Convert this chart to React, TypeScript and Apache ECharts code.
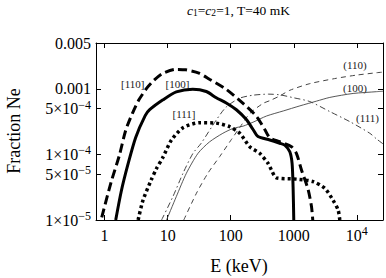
import React, { useEffect, useRef } from "react";
import * as echarts from "echarts";

// Axis ticks
const xTickValues = [1, 10, 100, 1000, 10000];
const xTickLabels = ["1", "10", "100", "1000", "10{sup|4}"];
const yTickValues = [1e-5, 5e-5, 1e-4, 5e-4, 0.001, 0.005];
const yTickLabels = ["1×10{sup|−5}", "5×10{sup|−5}", "1×10{sup|−4}", "5×10{sup|−4}", "0.001", "0.005"];

// [110] thick dashed
const e110 = [0.9, 1.27, 1.72, 2.15, 2.75, 3.5, 4.76, 6.06, 8.2, 13.4, 19.3, 31.4, 46, 85, 157, 256, 347, 416, 600, 920, 1100, 1325, 1690, 1910, 2000];
const f110 = [1.1e-5, 3.8e-5, 9.8e-5, 2.3e-4, 4.2e-4, 6.8e-4, 1.05e-3, 1.35e-3, 1.7e-3, 1.98e-3, 1.95e-3, 1.73e-3, 1.4e-3, 9.8e-4, 6.0e-4, 3.8e-4, 2.4e-4, 1.8e-4, 1.56e-4, 1.31e-4, 1.04e-4, 5.8e-5, 2.9e-5, 1.6e-5, 1.0e-5];

// [100] thick solid
const e100 = [1.5, 1.83, 2.33, 3.1, 4.4, 5.18, 8.42, 13.7, 25, 41, 59, 85, 123, 177, 226, 271, 416, 600, 720, 865, 940, 975, 1000];
const f100 = [1e-5, 2.7e-5, 6.9e-5, 1.8e-4, 3.9e-4, 4.8e-4, 6.8e-4, 9.0e-4, 9.9e-4, 9.1e-4, 7.3e-4, 6.1e-4, 4.8e-4, 3.4e-4, 2.4e-4, 1.87e-4, 1.66e-4, 1.48e-4, 1.39e-4, 1.1e-4, 7.3e-5, 3.2e-5, 1e-5];

// [111] thick dotted
const e111 = [3.4, 4.06, 5.5, 6.6, 8.4, 11.5, 17.5, 32, 59, 96, 139, 200, 288, 391, 442, 531, 1100, 2024, 3100, 4200, 5050, 5370];
const f111 = [1e-5, 2.0e-5, 4.1e-5, 6.0e-5, 9.0e-5, 1.66e-4, 2.55e-4, 3.05e-4, 3.0e-4, 2.65e-4, 2.1e-4, 1.31e-4, 1.04e-4, 7.3e-5, 5.8e-5, 4.4e-5, 4.2e-5, 3.85e-5, 3.05e-5, 2.0e-5, 1.42e-5, 1e-5];

// (110) thin dashed
const eT110 = [18, 28.6, 43.6, 67, 103, 140, 200, 326, 416, 600, 865, 1795, 4764, 9890, 20550, 26000];
const fT110 = [1e-5, 2.56e-5, 5.2e-5, 9.3e-5, 1.7e-4, 2.6e-4, 4.2e-4, 6.0e-4, 6.6e-4, 7.8e-4, 9.5e-4, 1.2e-3, 1.45e-3, 1.62e-3, 1.76e-3, 1.8e-3];

// (100) thin solid
const eT100 = [9.6, 13.7, 19.8, 30.3, 46, 75, 110, 157, 226, 369, 680, 1250, 2300, 3727, 8735, 20550, 26000];
const fT100 = [1e-5, 2.27e-5, 5.16e-5, 1.04e-4, 1.55e-4, 2.1e-4, 2.5e-4, 2.7e-4, 3.1e-4, 3.85e-4, 4.6e-4, 5.5e-4, 6.5e-4, 7.4e-4, 8.5e-4, 9.05e-4, 9.2e-4];

// (111) thin dash-dot
const eT111 = [8.0, 12.1, 17.5, 25.2, 34, 59, 85, 139, 226, 400, 600, 1000, 1795, 3727, 7745, 16070, 20550, 26000];
const fT111 = [1e-5, 2.27e-5, 5.16e-5, 1.04e-4, 1.48e-4, 3.35e-4, 5.3e-4, 7.2e-4, 8.0e-4, 8.3e-4, 8.1e-4, 7.3e-4, 6.4e-4, 4.5e-4, 3.16e-4, 2.1e-4, 1.72e-4, 1.45e-4];

const FONT = "'Liberation Serif', 'DejaVu Serif', serif";

function findLabel(values: number[], labels: string[], v: number): string {
  for (let i = 0; i < values.length; i++) {
    if (Math.abs(v / values[i] - 1) < 1e-6) return labels[i];
  }
  return "";
}

function mk(E: number[], F: number[], lineStyle: any, z: number) {
  return {
    type: "line",
    data: E.map((e, i) => [e, F[i]]),
    symbol: "none",
    showSymbol: false,
    smooth: 0.25,
    silent: true,
    z,
    lineStyle,
  };
}

export default function App() {
  const ref = useRef<HTMLDivElement>(null);
  useEffect(() => {
    document.body.style.margin = "0";
    const chart = echarts.init(ref.current!, null, { renderer: "svg" });
    const axisLine = { show: true, onZero: false, lineStyle: { color: "#000", width: 1 } };
    const tickStyle = { color: "#000", width: 1 };
    const richSup = { sup: { fontSize: 12, lineHeight: 12, verticalAlign: "top", fontFamily: FONT, color: "#000" } };
    const option: any = {
      animation: false,
      grid: { left: 96, top: 43, right: 3, bottom: 58, containLabel: false },
      xAxis: [
        {
          type: "log",
          min: 0.73,
          max: 26000,
          position: "bottom",
          axisLine,
          axisTick: { show: true, inside: true, length: 5, customValues: xTickValues, lineStyle: tickStyle },
          axisLabel: {
            customValues: xTickValues,
            formatter: (v: number) => findLabel(xTickValues, xTickLabels, v),
            margin: 5,
            fontSize: 16,
            lineHeight: 20,
            color: "#000",
            fontFamily: FONT,
            rich: richSup,
          },
          splitLine: { show: false },
        },
        {
          type: "log",
          min: 0.73,
          max: 26000,
          position: "top",
          axisLine,
          axisTick: { show: true, inside: true, length: 5, customValues: xTickValues, lineStyle: tickStyle },
          axisLabel: { show: false },
          splitLine: { show: false },
        },
      ],
      yAxis: [
        {
          type: "log",
          min: 1e-5,
          max: 0.005,
          position: "left",
          axisLine,
          axisTick: { show: true, inside: true, length: 5, customValues: yTickValues, lineStyle: tickStyle },
          axisLabel: {
            customValues: yTickValues,
            formatter: (v: number) => findLabel(yTickValues, yTickLabels, v),
            margin: 5,
            fontSize: 16,
            lineHeight: 20,
            color: "#000",
            fontFamily: FONT,
            rich: richSup,
          },
          splitLine: { show: false },
        },
        {
          type: "log",
          min: 1e-5,
          max: 0.005,
          position: "right",
          axisLine,
          axisTick: { show: true, inside: true, length: 5, customValues: yTickValues, lineStyle: tickStyle },
          axisLabel: { show: false },
          splitLine: { show: false },
        },
      ],
      series: [
        mk(eT110, fT110, { color: "#444", width: 1, type: [5, 4] }, 2),
        mk(eT100, fT100, { color: "#444", width: 0.9, type: "solid" }, 2),
        mk(eT111, fT111, { color: "#444", width: 1, type: [6, 3, 1.5, 3] }, 2),
        mk(e110, f110, { color: "#000", width: 3, type: [9, 4.5], cap: "butt" }, 3),
        mk(e100, f100, { color: "#000", width: 3, type: "solid" }, 3),
        mk(e111, f111, { color: "#000", width: 3.5, type: [3, 3], cap: "butt" }, 3),
      ],
      graphic: [
        {
          type: "text",
          x: 238.5,
          y: 10,
          style: {
            text: "{i|c}{s|1}={i|c}{s|2}=1, T=40 mK",
            fontSize: 13.5,
            lineHeight: 16,
            fontFamily: FONT,
            fill: "#000",
            align: "center",
            verticalAlign: "middle",
            rich: {
              i: { fontStyle: "italic", fontSize: 13.5, lineHeight: 16, fontFamily: FONT },
              s: { fontSize: 9.5, lineHeight: 9, verticalAlign: "bottom", fontFamily: FONT },
            },
          },
        },
        {
          type: "text",
          x: 13.5,
          y: 131,
          rotation: Math.PI / 2,
          style: { text: "Fraction Ne", fontSize: 18, fontFamily: FONT, fill: "#000", align: "center", verticalAlign: "middle" },
        },
        {
          type: "text",
          x: 239,
          y: 266,
          style: { text: "E (keV)", fontSize: 18, fontFamily: FONT, fill: "#000", align: "center", verticalAlign: "middle" },
        },
        { type: "text", x: 132.7, y: 84, style: { text: "[110]", fontSize: 11, fontFamily: FONT, fill: "#222", align: "center", verticalAlign: "middle" } },
        { type: "text", x: 177.5, y: 84, style: { text: "[100]", fontSize: 11, fontFamily: FONT, fill: "#222", align: "center", verticalAlign: "middle" } },
        { type: "text", x: 184, y: 114, style: { text: "[111]", fontSize: 11, fontFamily: FONT, fill: "#222", align: "center", verticalAlign: "middle" } },
        { type: "text", x: 355, y: 65, style: { text: "(110)", fontSize: 11, fontFamily: FONT, fill: "#222", align: "center", verticalAlign: "middle" } },
        { type: "text", x: 355, y: 87.5, style: { text: "(100)", fontSize: 11, fontFamily: FONT, fill: "#222", align: "center", verticalAlign: "middle" } },
        { type: "text", x: 367.5, y: 118, style: { text: "(111)", fontSize: 11, fontFamily: FONT, fill: "#222", align: "center", verticalAlign: "middle" } },
      ],
    };
    chart.setOption(option);
    return () => chart.dispose();
  }, []);
  return <div ref={ref} style={{ width: 386, height: 278 }} />;
}
